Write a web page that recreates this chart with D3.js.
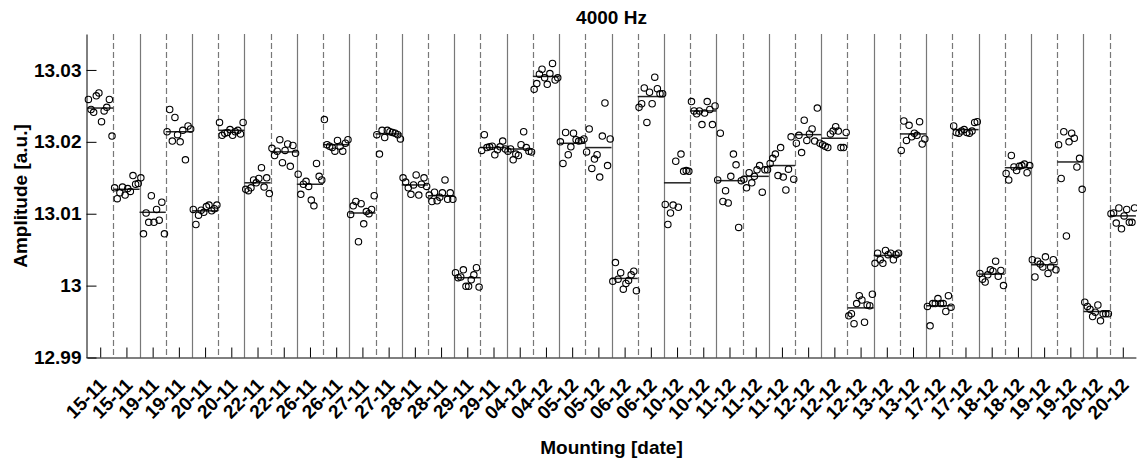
<!DOCTYPE html>
<html>
<head>
<meta charset="utf-8">
<script src="https://cdn.jsdelivr.net/npm/d3@7"></script>
<style>
  body { margin: 0; background: #fff; }
  svg { display: block; }
</style>
</head>
<body>
<div id="chart"></div>
<script>
// Size of the figure
var chart_width  = 1137;
var chart_height = 459;
var font = '"Liberation Sans", Arial, Helvetica, sans-serif';

// Data: one mounting per category, ten repeated measurements each
var mountings = ['15-11','15-11','19-11','19-11','20-11','20-11','22-11','22-11','26-11','26-11',
	'27-11','27-11','28-11','28-11','29-11','29-11','04-12','04-12','05-12','05-12',
	'06-12','06-12','10-12','10-12','11-12','11-12','11-12','12-12','12-12','12-12',
	'13-12','13-12','17-12','17-12','18-12','18-12','19-12','19-12','20-12','20-12'];

var amplitudes = [
	[13.0259, 13.0245, 13.0241, 13.0264, 13.0268, 13.0228, 13.0243, 13.0248, 13.0259, 13.0208],
	[13.0136, 13.0121, 13.0129, 13.0137, 13.0126, 13.0135, 13.0131, 13.0153, 13.0141, 13.0142],
	[13.0150, 13.0072, 13.0101, 13.0088, 13.0125, 13.0088, 13.0106, 13.0091, 13.0116, 13.0072],
	[13.0214, 13.0245, 13.0201, 13.0234, 13.0210, 13.0200, 13.0216, 13.0175, 13.0222, 13.0218],
	[13.0106, 13.0085, 13.0098, 13.0105, 13.0102, 13.0110, 13.0112, 13.0104, 13.0107, 13.0112],
	[13.0227, 13.0209, 13.0212, 13.0213, 13.0217, 13.0209, 13.0214, 13.0216, 13.0211, 13.0227],
	[13.0134, 13.0132, 13.0136, 13.0147, 13.0143, 13.0149, 13.0164, 13.0137, 13.0150, 13.0128],
	[13.0191, 13.0181, 13.0187, 13.0203, 13.0171, 13.0188, 13.0197, 13.0166, 13.0195, 13.0184],
	[13.0155, 13.0127, 13.0141, 13.0145, 13.0138, 13.0119, 13.0111, 13.0170, 13.0152, 13.0147],
	[13.0231, 13.0196, 13.0194, 13.0192, 13.0187, 13.0202, 13.0194, 13.0187, 13.0198, 13.0203],
	[13.0099, 13.0111, 13.0117, 13.0061, 13.0114, 13.0086, 13.0103, 13.0100, 13.0106, 13.0125],
	[13.0210, 13.0183, 13.0216, 13.0206, 13.0216, 13.0214, 13.0213, 13.0212, 13.0210, 13.0204],
	[13.0150, 13.0144, 13.0136, 13.0127, 13.0140, 13.0154, 13.0126, 13.0141, 13.0150, 13.0138],
	[13.0126, 13.0117, 13.0130, 13.0118, 13.0123, 13.0129, 13.0147, 13.0120, 13.0129, 13.0120],
	[13.0018, 13.0011, 13.0012, 13.0022, 12.9999, 12.9999, 13.0008, 13.0015, 13.0025, 12.9998],
	[13.0188, 13.0210, 13.0192, 13.0193, 13.0194, 13.0182, 13.0189, 13.0193, 13.0201, 13.0190],
	[13.0187, 13.0190, 13.0175, 13.0183, 13.0181, 13.0196, 13.0214, 13.0192, 13.0187, 13.0186],
	[13.0273, 13.0281, 13.0294, 13.0301, 13.0289, 13.0280, 13.0295, 13.0309, 13.0286, 13.0289],
	[13.0200, 13.0170, 13.0213, 13.0182, 13.0193, 13.0212, 13.0203, 13.0201, 13.0202, 13.0204],
	[13.0186, 13.0218, 13.0163, 13.0176, 13.0182, 13.0151, 13.0208, 13.0254, 13.0167, 13.0204],
	[13.0006, 13.0032, 13.0009, 13.0018, 12.9995, 13.0003, 13.0007, 13.0015, 13.0020, 12.9993],
	[13.0248, 13.0253, 13.0275, 13.0227, 13.0269, 13.0253, 13.0290, 13.0274, 13.0267, 13.0267],
	[13.0113, 13.0085, 13.0101, 13.0112, 13.0173, 13.0109, 13.0183, 13.0159, 13.0160, 13.0159],
	[13.0256, 13.0243, 13.0239, 13.0243, 13.0224, 13.0240, 13.0256, 13.0245, 13.0224, 13.0250],
	[13.0147, 13.0212, 13.0117, 13.0132, 13.0115, 13.0152, 13.0183, 13.0168, 13.0081, 13.0146],
	[13.0148, 13.0136, 13.0157, 13.0143, 13.0152, 13.0161, 13.0167, 13.0130, 13.0161, 13.0161],
	[13.0170, 13.0177, 13.0183, 13.0153, 13.0192, 13.0151, 13.0133, 13.0162, 13.0207, 13.0148],
	[13.0198, 13.0209, 13.0185, 13.0230, 13.0202, 13.0211, 13.0218, 13.0201, 13.0247, 13.0198],
	[13.0196, 13.0194, 13.0192, 13.0211, 13.0215, 13.0221, 13.0215, 13.0192, 13.0192, 13.0213],
	[12.9958, 12.9961, 12.9947, 12.9975, 12.9986, 12.9980, 12.9949, 12.9973, 12.9972, 12.9988],
	[13.0031, 13.0045, 13.0036, 13.0031, 13.0049, 13.0043, 13.0045, 13.0036, 13.0043, 13.0045],
	[13.0188, 13.0229, 13.0202, 13.0223, 13.0207, 13.0212, 13.0209, 13.0228, 13.0197, 13.0204],
	[12.9971, 12.9944, 12.9975, 12.9975, 12.9982, 12.9975, 12.9975, 12.9964, 12.9986, 12.9970],
	[13.0222, 13.0213, 13.0212, 13.0215, 13.0217, 13.0213, 13.0212, 13.0215, 13.0227, 13.0228],
	[13.0017, 13.0009, 13.0005, 13.0015, 13.0022, 13.0020, 13.0034, 13.0013, 13.0021, 13.0000],
	[13.0156, 13.0147, 13.0181, 13.0165, 13.0160, 13.0166, 13.0167, 13.0169, 13.0157, 13.0167],
	[13.0036, 13.0012, 13.0034, 13.0030, 13.0026, 13.0040, 13.0017, 13.0026, 13.0036, 13.0022],
	[13.0196, 13.0149, 13.0214, 13.0069, 13.0200, 13.0212, 13.0205, 13.0165, 13.0177, 13.0134],
	[12.9977, 12.9971, 12.9967, 12.9957, 12.9963, 12.9973, 12.9951, 12.9961, 12.9961, 12.9961],
	[13.0100, 13.0101, 13.0087, 13.0108, 13.0079, 13.0097, 13.0106, 13.0088, 13.0088, 13.0108]
];

// level of the horizontal line drawn over each mounting
var mean_lines = [13.0247, 13.0134, 13.0102, 13.0214, 13.0104, 13.0216, 13.0143, 13.0186, 13.0141, 13.0196,
	13.0101, 13.0211, 13.0140, 13.0125, 13.0011, 13.0192, 13.0190, 13.0291, 13.0198, 13.0192,
	13.0010, 13.0263, 13.0143, 13.0243, 13.0146, 13.0152, 13.0167, 13.0210, 13.0205, 12.9969,
	13.0042, 13.0211, 12.9972, 13.0217, 13.0016, 13.0164, 13.0029, 13.0172, 12.9964, 13.0097];

var y_ticks = [12.99, 13, 13.01, 13.02, 13.03];
var y_tick_labels = ['12.99', '13', '13.01', '13.02', '13.03'];

// Scales
var x = d3.scaleLinear()
	.domain([0, mountings.length])
	.range([87.1, 1135.9]);

var y = d3.scaleLinear()
	.domain([12.99, 13.035])
	.range([357.5, 34]);

var svg = d3.select('#chart')
	.append('svg')
	.attr('width', chart_width)
	.attr('height', chart_height)
	.style('font-family', font);

// separators between mountings: dashed inside a pair, solid between pairs
svg.append('g')
	.selectAll('line')
	.data(d3.range(1, mountings.length))
	.enter()
	.append('line')
	.attr('x1', function(d){ return Math.round(x(d)) + 0.5; })
	.attr('x2', function(d){ return Math.round(x(d)) + 0.5; })
	.attr('y1', y.range()[1])
	.attr('y2', y.range()[0])
	.attr('stroke', '#787878')
	.attr('stroke-width', 1.2)
	.attr('stroke-dasharray', function(d){ return d % 2 ? '6,3' : null; });

// mean line of each mounting
svg.append('g')
	.selectAll('line')
	.data(mean_lines)
	.enter()
	.append('line')
	.attr('x1', function(d, i){ return x(i); })
	.attr('x2', function(d, i){ return x(i + 1); })
	.attr('y1', function(d){ return y(d); })
	.attr('y2', function(d){ return y(d); })
	.attr('stroke', '#222')
	.attr('stroke-width', 1.5);

// measurements
var points = [];
amplitudes.forEach(function(values, i){
	values.forEach(function(v, j){
		points.push({ pos: i + (j + 0.5) / values.length, value: v });
	});
});

svg.append('g')
	.selectAll('circle')
	.data(points)
	.enter()
	.append('circle')
	.attr('cx', function(d){ return x(d.pos); })
	.attr('cy', function(d){ return y(d.value); })
	.attr('r', 3.2)
	.attr('fill', 'none')
	.attr('stroke', '#000')
	.attr('stroke-width', 1.1);

// Axes
var y_axis = d3.axisLeft(y)
	.tickValues(y_ticks)
	.tickFormat(function(d, i){ return y_tick_labels[i]; })
	.tickSizeInner(-10)
	.tickSizeOuter(0)
	.tickPadding(5);

svg.append('g')
	.attr('transform', 'translate(86.5,0)')
	.call(y_axis)
	.call(function(g){
		g.selectAll('text')
			.attr('font-family', font)
			.attr('font-size', 19)
			.attr('font-weight', 'bold')
			.attr('fill', '#000');
		g.selectAll('line, path').attr('stroke', '#000');
	});

var x_axis = d3.axisBottom(x)
	.tickValues(d3.range(mountings.length).map(function(i){ return i + 0.5; }))
	.tickFormat(function(d, i){ return mountings[i]; })
	.tickSizeInner(-10)
	.tickSizeOuter(0);

svg.append('g')
	.attr('transform', 'translate(0,357.5)')
	.call(x_axis)
	.call(function(g){
		g.selectAll('text')
			.attr('font-family', font)
			.attr('font-size', 19)
			.attr('font-weight', 'bold')
			.attr('fill', '#000')
			.attr('text-anchor', 'end')
			.attr('x', 0)
			.attr('y', 0)
			.attr('dy', '0.35em')
			.attr('transform', 'translate(2,24) rotate(-45)');
		g.selectAll('line, path').attr('stroke', '#000');
	});

// Titles
svg.append('text')
	.attr('x', 611.5)
	.attr('y', 24)
	.attr('text-anchor', 'middle')
	.attr('font-size', 19)
	.attr('font-weight', 'bold')
	.text('4000 Hz');

svg.append('text')
	.attr('x', 611.5)
	.attr('y', 453.5)
	.attr('text-anchor', 'middle')
	.attr('font-size', 19)
	.attr('font-weight', 'bold')
	.text('Mounting [date]');

svg.append('text')
	.attr('transform', 'translate(27,196) rotate(-90)')
	.attr('text-anchor', 'middle')
	.attr('font-size', 19)
	.attr('font-weight', 'bold')
	.text('Amplitude [a.u.]');
</script>
</body>
</html>
